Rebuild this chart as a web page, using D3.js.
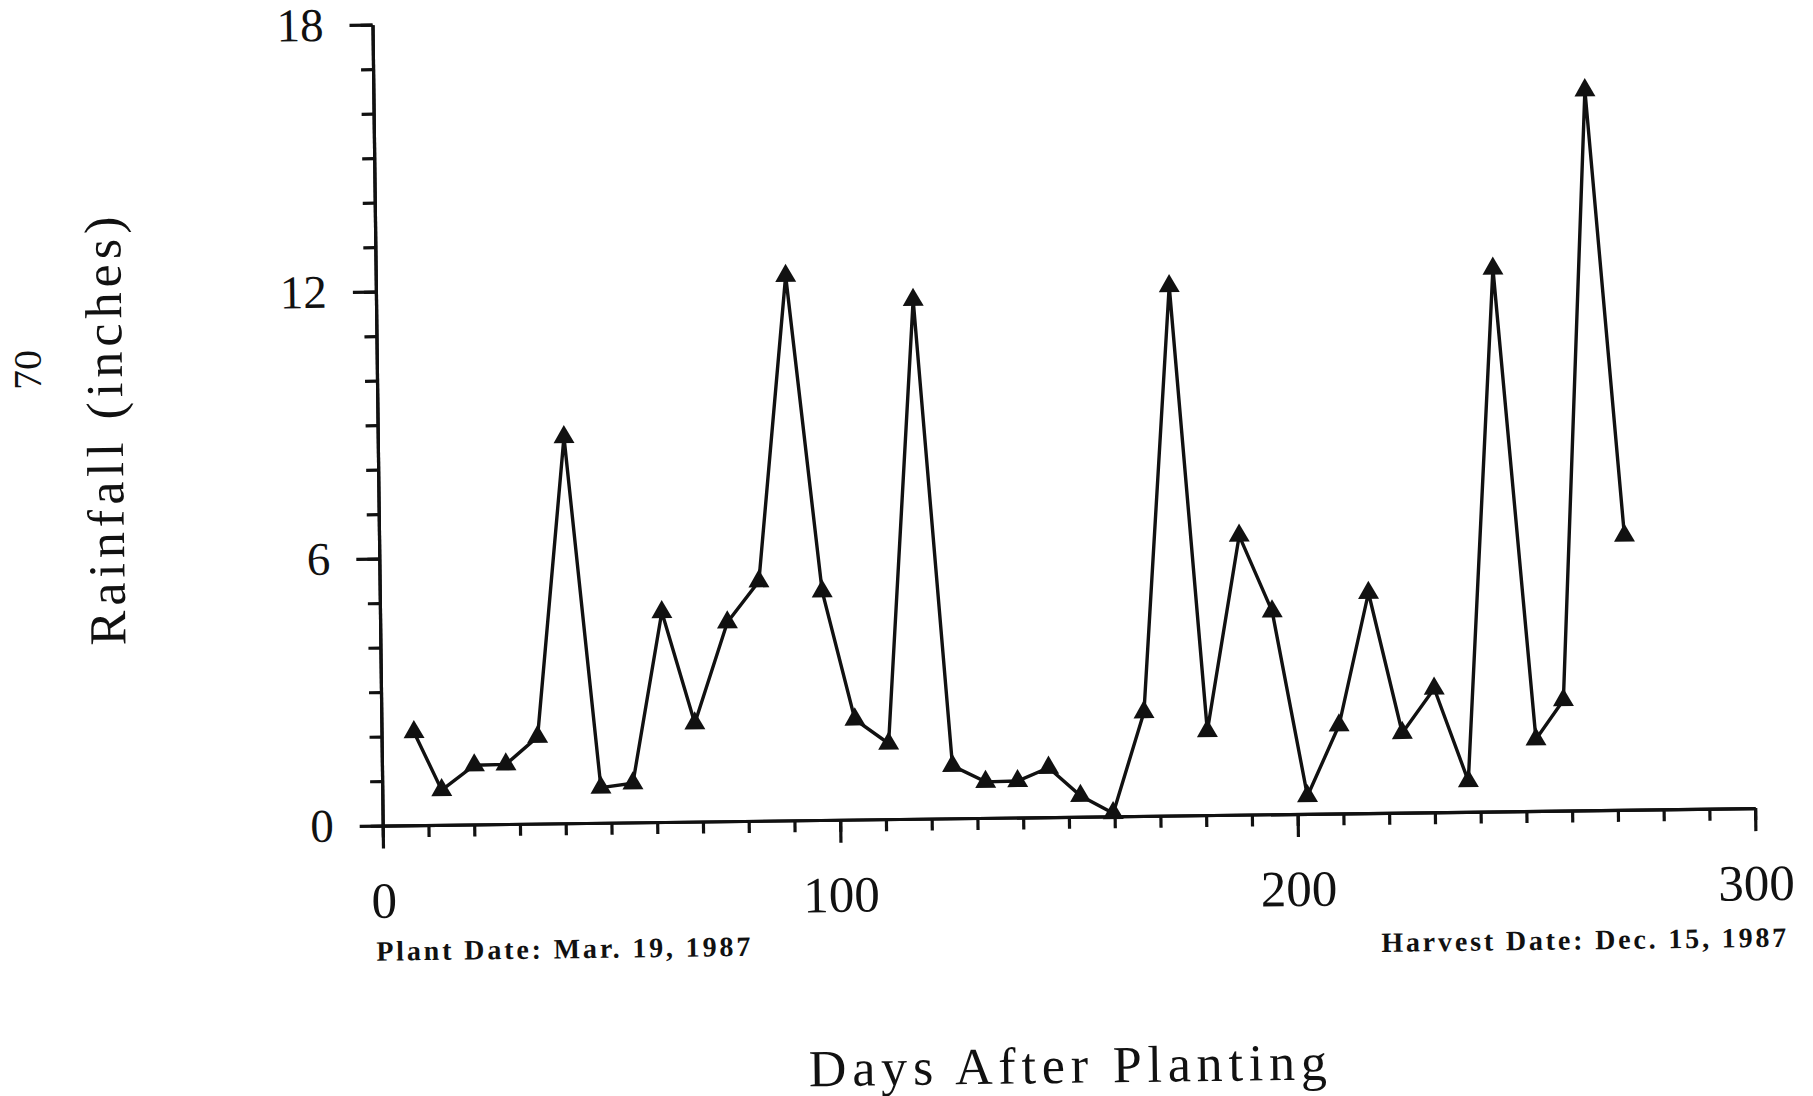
<!DOCTYPE html>
<html>
<head>
<meta charset="utf-8">
<script src="https://cdn.jsdelivr.net/npm/d3@7"></script>
<style>
  body { margin: 0; background: #fff; }
  svg { display: block; }
  .axis path, .axis line { stroke: #111; stroke-width: 3.2; }
  .axis text { font-family: 'Liberation Serif', 'Times New Roman', serif; fill: #111; }
  .v-title { font-family: 'Liberation Serif', serif; fill: #111; }
  .v-note { font-family: 'Liberation Serif', serif; font-weight: bold; fill: #111; }
</style>
</head>
<body>
<div id="chart"></div>
<script>
// rainfall readings
var days = [7.1, 13.0, 20.2, 27.1, 34.1, 40.7, 47.8, 54.8, 61.6, 68.5,
  75.9, 82.9, 89.6, 96.7, 103.5, 110.8, 117.4, 124.7, 131.9, 138.9,
  145.7, 152.6, 159.7, 166.7, 173.4, 180.5, 188.0, 195.0, 202.2, 209.3,
  216.1, 223.1, 230.2, 237.4, 244.2, 252.3, 258.4, 264.8, 272.2]
var rainfall = [2.09, 0.78, 1.33, 1.34, 1.95, 8.68, 0.79, 0.88, 4.72, 2.21,
  4.47, 5.38, 12.24, 5.14, 2.25, 1.70, 11.66, 1.18, 0.81, 0.82,
  1.11, 0.47, 0.07, 2.33, 11.90, 1.89, 6.27, 4.56, 0.40, 1.98,
  4.95, 1.79, 2.78, 0.69, 12.20, 1.61, 2.48, 16.18, 6.16]

var xMajor = [0, 100, 200, 300]
var yMajor = [0, 6, 12, 18]
var xLabel = 'Days After Planting'
var yLabel = 'Rainfall (inches)'
var plantNote = 'Plant Date: Mar. 19, 1987'
var harvestNote = 'Harvest Date: Dec. 15, 1987'
var pageNo = '70'

var WIDTH = 1813
var HEIGHT = 1096
// corner of the axes and plot size
var X0 = 382.7
var Y0 = 825.6
var W = 1372.5
var H = 801
// the scanned page sits a little crooked
var TILT = -0.73

var points = days.map(function (d, i) { return { day: d, rain: rainfall[i] } })

var svg = d3.select('#chart').append('svg')
  .attr('width', WIDTH)
  .attr('height', HEIGHT)

svg.append('rect').attr('width', WIDTH).attr('height', HEIGHT).attr('fill', '#fff')

var g = svg.append('g')
  .attr('transform', 'rotate(' + TILT + ',' + X0 + ',' + Y0 + ') translate(' + X0 + ',' + (Y0 - H) + ')')

var x = d3.scaleLinear().domain([0, 300]).range([0, W])
var y = d3.scaleLinear().domain([0, 18]).range([H, 0])

// minor ticks
g.append('g')
  .attr('class', 'axis')
  .attr('transform', 'translate(0,' + H + ')')
  .call(d3.axisBottom(x).ticks(30).tickSize(12).tickSizeOuter(0).tickFormat(''))
g.append('g')
  .attr('class', 'axis')
  .call(d3.axisLeft(y).ticks(18).tickSize(12).tickSizeOuter(0).tickFormat(''))

// major ticks with labels
g.append('g')
  .attr('class', 'axis')
  .attr('transform', 'translate(0,' + H + ')')
  .call(d3.axisBottom(x).tickValues(xMajor).tickSize(23).tickSizeOuter(0).tickPadding(33))
  .call(function (s) { s.selectAll('text').attr('font-size', 51) })
g.append('g')
  .attr('class', 'axis')
  .call(d3.axisLeft(y).tickValues(yMajor).tickSize(23).tickSizeOuter(0).tickPadding(26))
  .call(function (s) { s.selectAll('text').attr('font-size', 47) })

// the series
var line = d3.line().x(d => x(d.day)).y(d => y(d.rain))
g.append('path')
  .datum(points)
  .attr('fill', 'none')
  .attr('stroke', '#111')
  .attr('stroke-width', 3.4)
  .attr('stroke-linejoin', 'miter')
  .attr('d', line)

g.selectAll('path.v-mark')
  .data(points)
  .enter()
  .append('path')
  .attr('class', 'v-mark')
  .attr('fill', '#111')
  .attr('transform', d => 'translate(' + x(d.day) + ',' + y(d.rain) + ')')
  .attr('d', d3.symbol().type(d3.symbolTriangle).size(190))

// titles and notes
g.append('text')
  .attr('class', 'v-title')
  .attr('transform', 'translate(-255,' + (H - 398) + ') rotate(-90)')
  .attr('text-anchor', 'middle')
  .attr('font-size', 52)
  .attr('textLength', 429)
  .attr('lengthAdjust', 'spacing')
  .text(yLabel)

g.append('text')
  .attr('class', 'v-title')
  .attr('x', 682)
  .attr('y', H + 266)
  .attr('text-anchor', 'middle')
  .attr('font-size', 52)
  .attr('textLength', 518)
  .attr('lengthAdjust', 'spacing')
  .text(xLabel)

g.append('text')
  .attr('class', 'v-note')
  .attr('x', -8)
  .attr('y', H + 135)
  .attr('font-size', 28)
  .attr('textLength', 374)
  .attr('lengthAdjust', 'spacing')
  .text(plantNote)

g.append('text')
  .attr('class', 'v-note')
  .attr('x', 1402 - 405)
  .attr('y', H + 139)
  .attr('font-size', 28)
  .attr('textLength', 405)
  .attr('lengthAdjust', 'spacing')
  .text(harvestNote)

// page number along the margin
svg.append('text')
  .attr('class', 'v-title')
  .attr('transform', 'translate(41,370) rotate(-90)')
  .attr('text-anchor', 'middle')
  .attr('font-size', 40)
  .text(pageNo)
</script>
</body>
</html>
